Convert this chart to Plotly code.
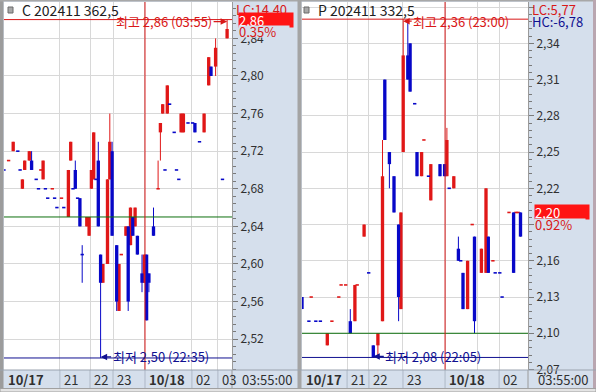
import plotly.graph_objects as go

# ------------------------------------------------------------------ data
# Left panel : call option, 5-minute bars placed on a trade-slot axis
c_title = "C 202411 362,5"
c_slot = [0, 2, 4, 6, 7, 8, 9, 11, 12,
          14, 15, 16, 17, 18, 19,
          21, 22, 23, 25, 26,
          28, 29, 30, 31, 32, 33, 34,
          36, 37, 38, 39, 40, 41, 42, 43,
          45, 46, 47, 49, 50, 51,
          53, 54, 55, 56, 57, 58,
          60, 61, 62, 63, 65,
          67, 68, 69, 70, 71, 72,
          74, 75, 76, 77, 78,
          80, 82, 83, 85, 87,
          89, 90, 92, 95, 97]
c_open = [2.70, 2.71, 2.72, 2.72, 2.70, 2.68, 2.70, 2.71, 2.71,
          2.69, 2.68, 2.70, 2.69, 2.68, 2.67,
          2.68, 2.67, 2.66, 2.67, 2.66,
          2.65, 2.71, 2.68, 2.70, 2.67, 2.67, 2.61,
          2.64, 2.63, 2.68, 2.69, 2.69, 2.71, 2.61, 2.58,
          2.60, 2.69, 2.72, 2.62, 2.55, 2.61,
          2.63, 2.64, 2.62, 2.65, 2.64, 2.63,
          2.59, 2.58, 2.61, 2.59, 2.64,
          2.68, 2.74, 2.76, 2.70, 2.76, 2.77,
          2.74, 2.70, 2.69, 2.74, 2.74,
          2.75, 2.75, 2.75, 2.73, 2.74,
          2.79, 2.81, 2.81, 2.69, 2.84]
c_high = [2.70, 2.71, 2.73, 2.72, 2.70, 2.69, 2.71, 2.72, 2.72,
          2.69, 2.68, 2.70, 2.71, 2.68, 2.67,
          2.68, 2.67, 2.66, 2.67, 2.66,
          2.70, 2.73, 2.68, 2.71, 2.67, 2.67, 2.62,
          2.65, 2.65, 2.70, 2.74, 2.69, 2.73, 2.61, 2.60,
          2.69, 2.76, 2.73, 2.62, 2.60, 2.61,
          2.64, 2.64, 2.66, 2.65, 2.66, 2.63,
          2.61, 2.61, 2.61, 2.59, 2.66,
          2.71, 2.75, 2.77, 2.70, 2.79, 2.77,
          2.74, 2.70, 2.69, 2.76, 2.76,
          2.75, 2.75, 2.75, 2.73, 2.76,
          2.82, 2.81, 2.84, 2.69, 2.86]
c_low = [2.70, 2.71, 2.72, 2.72, 2.70, 2.68, 2.70, 2.71, 2.70,
         2.69, 2.68, 2.70, 2.69, 2.68, 2.67,
         2.68, 2.67, 2.66, 2.67, 2.66,
         2.65, 2.71, 2.68, 2.68, 2.67, 2.64, 2.58,
         2.64, 2.63, 2.68, 2.69, 2.69, 2.64, 2.50, 2.58,
         2.60, 2.69, 2.63, 2.55, 2.55, 2.61,
         2.63, 2.55, 2.62, 2.63, 2.64, 2.61,
         2.57, 2.58, 2.54, 2.57, 2.63,
         2.68, 2.71, 2.76, 2.70, 2.76, 2.77,
         2.74, 2.70, 2.69, 2.74, 2.74,
         2.75, 2.75, 2.74, 2.73, 2.74,
         2.79, 2.80, 2.80, 2.69, 2.84]
c_close = [2.70, 2.71, 2.73, 2.72, 2.70, 2.69, 2.71, 2.72, 2.70,
           2.69, 2.68, 2.70, 2.71, 2.68, 2.67,
           2.68, 2.67, 2.66, 2.67, 2.66,
           2.70, 2.73, 2.68, 2.68, 2.67, 2.64, 2.61,
           2.65, 2.65, 2.70, 2.74, 2.69, 2.64, 2.58, 2.60,
           2.69, 2.73, 2.63, 2.56, 2.60, 2.61,
           2.64, 2.56, 2.66, 2.63, 2.66, 2.61,
           2.58, 2.61, 2.54, 2.58, 2.63,
           2.68, 2.75, 2.77, 2.70, 2.79, 2.77,
           2.74, 2.70, 2.69, 2.76, 2.76,
           2.75, 2.75, 2.74, 2.73, 2.76,
           2.82, 2.80, 2.83, 2.69, 2.85]
c_ref = 2.65
c_last = 2.86
c_chg = "0,35%"
c_lc = "LC:14,40"
c_high_time = "03:55"
c_low_time = "22:35"
c_tick_slots = [0, 24.3, 37.4, 47.4, 61.3, 81.7, 93.0]
c_tick_text = ["10/17", "21", "22", "23", "10/18", "02", "03"]

# Right panel : put option
p_title = "P 202411 332,5"
p_slot = [0, 3, 4, 6, 8, 11, 13, 16, 17, 19,
          21, 23, 24, 27, 29, 31, 33,
          35, 36, 38, 40, 42, 43, 44, 46, 47, 49,
          50, 52, 53, 55, 56, 60, 62, 63, 64, 66,
          68, 69, 70, 72, 74, 75, 78, 80, 81,
          83, 84, 86, 87, 90, 92, 93, 94, 95]
p_open = [2.13, 2.11, 2.13, 2.11, 2.11, 2.09, 2.11, 2.13, 2.14, 2.14,
          2.11, 2.11, 2.14, 2.18, 2.15, 2.09, 2.09,
          2.11, 2.31, 2.25, 2.23, 2.19, 2.12, 2.25, 2.33, 2.34, 2.29,
          2.25, 2.23, 2.26, 2.23, 2.21, 2.24, 2.24, 2.23, 2.22, 2.22,
          2.17, 2.16, 2.15, 2.12, 2.19, 2.18, 2.15, 2.15, 2.18,
          2.16, 2.15, 2.15, 2.13, 2.20, 2.20, 2.20, 2.20, 2.20]
p_high = [2.13, 2.11, 2.13, 2.11, 2.11, 2.10, 2.11, 2.13, 2.14, 2.14,
          2.12, 2.14, 2.14, 2.19, 2.15, 2.09, 2.10,
          2.26, 2.31, 2.25, 2.23, 2.19, 2.20, 2.36, 2.36, 2.34, 2.29,
          2.25, 2.25, 2.26, 2.23, 2.24, 2.24, 2.24, 2.27, 2.22, 2.23,
          2.18, 2.16, 2.15, 2.16, 2.19, 2.18, 2.17, 2.22, 2.18,
          2.16, 2.15, 2.15, 2.13, 2.20, 2.20, 2.20, 2.20, 2.20]
p_low = [2.12, 2.11, 2.13, 2.11, 2.11, 2.09, 2.11, 2.13, 2.14, 2.14,
         2.10, 2.11, 2.14, 2.18, 2.15, 2.08, 2.08,
         2.11, 2.26, 2.22, 2.20, 2.11, 2.12, 2.25, 2.31, 2.30, 2.29,
         2.23, 2.23, 2.26, 2.23, 2.21, 2.23, 2.23, 2.23, 2.22, 2.22,
         2.16, 2.16, 2.12, 2.12, 2.19, 2.10, 2.15, 2.15, 2.15,
         2.16, 2.15, 2.15, 2.13, 2.20, 2.15, 2.20, 2.20, 2.18]
p_close = [2.12, 2.11, 2.13, 2.11, 2.11, 2.10, 2.11, 2.13, 2.14, 2.14,
           2.10, 2.14, 2.14, 2.19, 2.15, 2.08, 2.10,
           2.23, 2.26, 2.24, 2.20, 2.13, 2.20, 2.33, 2.31, 2.30, 2.29,
           2.23, 2.25, 2.26, 2.23, 2.24, 2.23, 2.23, 2.26, 2.22, 2.23,
           2.16, 2.16, 2.12, 2.16, 2.19, 2.11, 2.17, 2.22, 2.15,
           2.16, 2.15, 2.15, 2.13, 2.20, 2.15, 2.20, 2.20, 2.18]
p_ref = 2.10
p_last = 2.20
p_chg = "0,92%"
p_lc = "LC:5,77"
p_hc = "HC:-6,78"
p_high_time = "23:00"
p_low_time = "22:05"
p_tick_slots = [0, 19.6, 29.1, 43.9, 62.2, 76.5, 85.7]
p_tick_text = ["10/17", "21", "22", "23", "10/18", "", "02"]

time_label = "03:55:00"

# ------------------------------------------------------------------ style
W, H = 596, 392
FONT = "Noto Sans CJK KR, Liberation Sans, sans-serif"
RED = "#E01818"
BLUE = "#0808C8"
LRED = "#D81818"
LBLUE = "#101090"
GREEN = "#0E700E"
GRID = "#D8D8D8"
AXBG = "#D5DFEC"
TXT = "#303030"
FS = 12
PY0, PY1 = 2, 370          # plot top / bottom in pixels


def pxx(x):
    return x / W


def pyy(y):
    return 1 - y / H


def fmt(v):
    return f"{v:.2f}".replace(".", ",")


def candle_colors(o, c):
    out, prev_c, prev_col = [], None, BLUE
    for oi, ci in zip(o, c):
        if ci > oi:
            col = RED
        elif ci < oi:
            col = BLUE
        elif prev_c is None or ci < prev_c:
            col = BLUE
        elif ci > prev_c:
            col = RED
        else:
            col = prev_col
        out.append(col)
        prev_c, prev_col = ci, col
    return out


panels = [
    dict(title=c_title, slot=c_slot, o=c_open, h=c_high, l=c_low, c=c_close,
         ref=c_ref, last=c_last, chg=c_chg, htime=c_high_time, ltime=c_low_time,
         tslots=c_tick_slots, ttext=c_tick_text, xa="x", ya="y",
         xpx=(4, 232), yr=(2.4872, 2.8787), tick0=2.52, dtick=0.04, mdt=0.008,
         axmax=-63, axmin=60, titlex=20, iconx=8, extra=[(c_lc, LRED, 9)]),
    dict(title=p_title, slot=p_slot, o=p_open, h=p_high, l=p_low, c=p_close,
         ref=p_ref, last=p_last, chg=p_chg, htime=p_high_time, ltime=p_low_time,
         tslots=p_tick_slots, ttext=p_tick_text, xa="x2", ya="y2",
         xpx=(302, 528), yr=(2.0696, 2.3742), tick0=2.10, dtick=0.03, mdt=0.006,
         axmax=58, axmin=60, titlex=316, iconx=304,
         extra=[(p_lc, LRED, 9), (p_hc, LBLUE, 21)]),
]

SLOT_PX = 2.3
BODY_W = 1.45

fig = go.Figure()
shapes = []
annotations = []
layout_axes = {}

for k, P in enumerate(panels):
    xa, ya = P["xa"], P["ya"]
    cols = candle_colors(P["o"], P["c"])
    minh = 1.6 * (P["yr"][1] - P["yr"][0]) / (PY1 - PY0)
    for colr in (RED, BLUE):
        wx, wy = [], []
        for s, hi, lo, cc in zip(P["slot"], P["h"], P["l"], cols):
            if cc == colr and hi > lo:
                wx += [s, s, None]
                wy += [lo, hi, None]
        fig.add_trace(go.Scatter(x=wx, y=wy, mode="lines", xaxis=xa, yaxis=ya,
                                 line=dict(color=colr, width=1), hoverinfo="skip"))
    for colr in (RED, BLUE):
        bx, bb, bh = [], [], []
        for s, oo, cl, cc in zip(P["slot"], P["o"], P["c"], cols):
            if cc != colr:
                continue
            hgt = abs(cl - oo)
            if hgt < minh:
                bb.append((oo + cl) / 2 - minh / 2)
                bh.append(minh)
            else:
                bb.append(min(oo, cl))
                bh.append(hgt)
            bx.append(s)
        fig.add_trace(go.Bar(x=bx, y=bh, base=bb, width=BODY_W, xaxis=xa, yaxis=ya,
                             marker=dict(color=colr, line=dict(width=0)),
                             hoverinfo="skip"))

    x0p, x1p = P["xpx"]
    xr = (0, (x1p - x0p) / SLOT_PX)
    sfx = "" if k == 0 else "2"
    layout_axes["xaxis" + sfx] = dict(
        domain=[pxx(x0p), pxx(x1p)], range=list(xr), anchor=ya,
        tickvals=P["tslots"], showticklabels=False, ticks="",
        showgrid=True, gridcolor=GRID, gridwidth=1, zeroline=False, showline=False,
        automargin=False, fixedrange=True)
    layout_axes["yaxis" + sfx] = dict(
        domain=[pyy(PY1), pyy(PY0)], range=list(P["yr"]), anchor=xa, side="right",
        tick0=P["tick0"], dtick=P["dtick"], tickformat=".2f",
        ticks="outside", ticklen=5, tickcolor="#7A7A7A", tickwidth=1,
        minor=dict(ticks="outside", ticklen=3, tickcolor="#7A7A7A",
                   tick0=P["tick0"], dtick=P["mdt"], showgrid=False),
        showgrid=True, gridcolor=GRID, gridwidth=1, zeroline=False,
        showline=True, linecolor="#9A9A9A", linewidth=1, automargin=False,
        tickfont=dict(family=FONT, size=FS, color=TXT), fixedrange=True)

    xd = xa + " domain"
    yd = ya + " domain"
    imax = max(range(len(P["h"])), key=lambda i: (P["h"][i], -i))
    imin = min(range(len(P["l"])), key=lambda i: (P["l"][i], i))
    for yv, colr in ((P["ref"], GREEN), (P["h"][imax], LRED), (P["l"][imin], LBLUE)):
        shapes.append(dict(type="line", xref=xd, x0=0, x1=1, yref=ya, y0=yv, y1=yv,
                           line=dict(color=colr, width=1), layer="above"))
    dpos = P["tslots"][P["ttext"].index("10/18")]
    shapes.append(dict(type="line", xref=xa, x0=dpos, x1=dpos, yref=yd, y0=0, y1=1,
                       line=dict(color=LRED, width=1), layer="above"))
    for tv, tt in zip(P["tslots"], P["ttext"]):
        if tt == "":
            continue
        if tv > 0:
            shapes.append(dict(type="line", xref=xa, x0=tv, x1=tv, yref="paper",
                               y0=pyy(388), y1=pyy(PY1),
                               line=dict(color="#AEB8C6", width=1)))
        lab = f"<b>{tt}</b>" if "/" in tt else tt
        annotations.append(dict(xref=xa, x=tv, yref="paper", y=pyy(379.5), text=lab,
                                showarrow=False, xanchor="left", yanchor="middle",
                                xshift=2, font=dict(family=FONT, size=13, color=TXT)))
    shapes.append(dict(type="line", xref="paper", x0=pxx(x1p), x1=pxx(x1p),
                       yref="paper", y0=pyy(388), y1=pyy(PY1),
                       line=dict(color="#9A9A9A", width=1)))
    annotations.append(dict(xref="paper", x=pxx(x1p + 8), yref="paper", y=pyy(379.5),
                            text=time_label, showarrow=False, xanchor="left",
                            yanchor="middle",
                            font=dict(family=FONT, size=13, color=TXT)))
    annotations.append(dict(xref=xa, yref=ya, x=P["slot"][imax], y=P["h"][imax],
                            text=f"최고 {fmt(P['h'][imax])} ({P['htime']})",
                            showarrow=True, arrowhead=2, arrowsize=1, arrowwidth=1.3,
                            arrowcolor=LRED, ax=P["axmax"], ay=0, yshift=-2,
                            font=dict(family=FONT, size=13, color=LRED)))
    annotations.append(dict(xref=xa, yref=ya, x=P["slot"][imin], y=P["l"][imin],
                            text=f"최저 {fmt(P['l'][imin])} ({P['ltime']})",
                            showarrow=True, arrowhead=2, arrowsize=1, arrowwidth=1.3,
                            arrowcolor=LBLUE, ax=P["axmin"], ay=0, yshift=1,
                            font=dict(family=FONT, size=13, color=LBLUE)))
    shapes.append(dict(type="rect", xref="paper", yref="paper",
                       x0=pxx(P["iconx"]), x1=pxx(P["iconx"] + 5),
                       y0=pyy(13), y1=pyy(7), fillcolor="#A8A8A8",
                       line=dict(color="#6A6A6A", width=1)))
    annotations.append(dict(xref="paper", yref="paper", x=pxx(P["titlex"]), y=pyy(10),
                            text=P["title"], showarrow=False, xanchor="left",
                            yanchor="middle",
                            font=dict(family=FONT, size=14, color="#202020")))
    for txt, colr, yy in P["extra"]:
        annotations.append(dict(xref="paper", yref="paper", x=pxx(x1p + 2), y=pyy(yy),
                                text=txt, showarrow=False, xanchor="left",
                                yanchor="middle",
                                font=dict(family=FONT, size=13, color=colr)))
    annotations.append(dict(xref="paper", yref=ya, x=pxx(x1p + 6), y=P["last"],
                            text=fmt(P["last"]), showarrow=False, xanchor="left",
                            yanchor="middle", align="left", width=54, height=14,
                            bgcolor="#FF1414", borderpad=0,
                            font=dict(family=FONT, size=13, color="white")))
    annotations.append(dict(xref="paper", yref=ya, x=pxx(x1p + 6), y=P["last"],
                            yshift=-12, text=P["chg"], showarrow=False,
                            xanchor="left", yanchor="middle", align="left",
                            width=50, height=11, bgcolor=AXBG, borderpad=0,
                            font=dict(family=FONT, size=13, color=LRED)))

shapes += [
    dict(type="rect", xref="paper", yref="paper", x0=0, x1=pxx(3.5), y0=0, y1=1,
         fillcolor="#9C9C9C", line=dict(width=0)),
    dict(type="rect", xref="paper", yref="paper", x0=0, x1=1, y0=pyy(1.5), y1=1,
         fillcolor="#A8A8A8", line=dict(width=0)),
    dict(type="rect", xref="paper", yref="paper", x0=pxx(297.5), x1=pxx(301.5),
         y0=0, y1=1, fillcolor="#A4A4A4", line=dict(width=0)),
    dict(type="rect", xref="paper", yref="paper", x0=pxx(593), x1=1, y0=0, y1=1,
         fillcolor="#B9A6B0", line=dict(width=0)),
    dict(type="line", xref="paper", yref="paper", x0=0, x1=1, y0=pyy(PY1),
         y1=pyy(PY1), line=dict(color="#9AA3AF", width=1)),
    dict(type="rect", xref="paper", yref="paper", x0=0, x1=1, y0=0, y1=pyy(388.5),
         fillcolor="#E4E4E4", line=dict(color="#A0A0A0", width=1)),
]

fig.update_layout(
    width=W, height=H, margin=dict(l=0, r=0, t=0, b=0, autoexpand=False),
    paper_bgcolor=AXBG, plot_bgcolor="white",
    barmode="overlay", showlegend=False, hovermode=False,
    separators=", ", font=dict(family=FONT, size=FS, color=TXT),
    shapes=shapes, annotations=annotations, **layout_axes,
)

fig.write_html("out.html",
               config={"displayModeBar": False, "staticPlot": True},
               post_script="document.body.style.margin='0';"
                           "document.body.style.overflow='hidden';")
